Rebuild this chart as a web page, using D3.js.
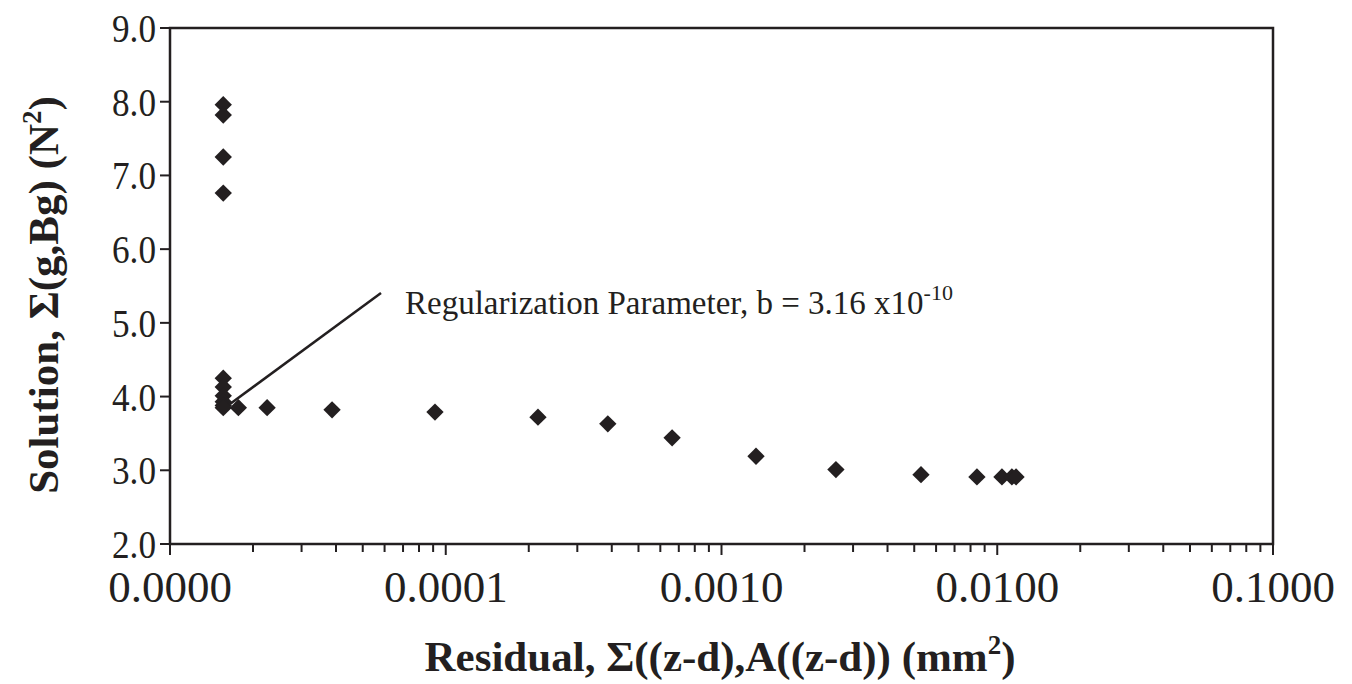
<!DOCTYPE html>
<html>
<head>
<meta charset="utf-8">
<script src="https://cdn.jsdelivr.net/npm/d3@7"></script>
<style>
  body { margin: 0; background: #fff; }
  text { font-family: "Liberation Serif", "Times New Roman", serif; fill: #231f20; }
</style>
</head>
<body>
<div id="chart"></div>
<script>
// residual (mm^2) vs solution (N^2)
const residual = [
  1.56e-5, 1.56e-5, 1.56e-5, 1.56e-5, 1.56e-5, 1.56e-5, 1.56e-5, 1.56e-5, 1.56e-5, 1.56e-5,
  1.77e-5, 2.25e-5, 3.87e-5, 9.14e-5, 2.16e-4, 3.87e-4, 6.62e-4, 1.334e-3, 2.60e-3,
  5.29e-3, 8.44e-3, 1.04e-2, 1.13e-2, 1.17e-2
];
const solution = [
  7.96, 7.82, 7.25, 6.76, 4.25, 4.13, 4.01, 3.93, 3.88, 3.85,
  3.85, 3.85, 3.82, 3.79, 3.72, 3.63, 3.44, 3.19, 3.01,
  2.94, 2.91, 2.91, 2.91, 2.91
];
const xTickLabels = ["0.0000", "0.0001", "0.0010", "0.0100", "0.1000"];
const yTickValues = [2, 3, 4, 5, 6, 7, 8, 9];

const width = 1352, height = 684;
const margin = {top: 28, right: 79, bottom: 140, left: 170};

const svg = d3.select("#chart").append("svg")
    .attr("width", width)
    .attr("height", height);

const x = d3.scaleLog()
    .domain([1e-5, 0.1])
    .range([margin.left, width - margin.right]);

const y = d3.scaleLinear()
    .domain([2, 9])
    .range([height - margin.bottom, margin.top]);

const x0 = x.range()[0], x1 = x.range()[1];
const y0 = y.range()[0], y1 = y.range()[1];

// frame
svg.append("rect")
    .attr("x", x0).attr("y", y1)
    .attr("width", x1 - x0).attr("height", y0 - y1)
    .style("fill", "none")
    .style("stroke", "#231f20")
    .style("stroke-width", 2.5);

// x ticks (minor + major)
const majors = [1e-5, 1e-4, 1e-3, 1e-2, 1e-1];
const allTicks = x.ticks();
svg.append("g").selectAll("line")
    .data(allTicks)
    .enter().append("line")
    .attr("x1", d => x(d)).attr("x2", d => x(d))
    .attr("y1", y0)
    .attr("y2", d => majors.some(m => Math.abs(m - d) / m < 1e-6) ? y0 + 11 : y0 + 8)
    .style("stroke", "#231f20")
    .style("stroke-width", 2);

svg.append("g").selectAll("text")
    .data(majors)
    .enter().append("text")
    .attr("x", d => x(d))
    .attr("y", y0 + 58)
    .attr("text-anchor", "middle")
    .style("font-size", "45px")
    .text((d, i) => xTickLabels[i]);

// y ticks
svg.append("g").selectAll("line")
    .data(yTickValues)
    .enter().append("line")
    .attr("x1", x0 - 10).attr("x2", x0)
    .attr("y1", d => y(d)).attr("y2", d => y(d))
    .style("stroke", "#231f20")
    .style("stroke-width", 2);

svg.append("g").selectAll("text")
    .data(yTickValues)
    .enter().append("text")
    .attr("x", x0 - 14)
    .attr("y", d => y(d))
    .attr("dy", "0.34em")
    .attr("text-anchor", "end")
    .attr("textLength", 44)
    .attr("lengthAdjust", "spacingAndGlyphs")
    .style("font-size", "41px")
    .text(d => d.toFixed(1));

// axis titles
const xt = svg.append("text")
    .attr("x", 720)
    .attr("y", 671)
    .attr("text-anchor", "middle")
    .style("font-size", "43px")
    .style("font-weight", "bold");
xt.append("tspan").text("Residual, \u03A3((z-d),A((z-d)) (mm");
xt.append("tspan").attr("dy", -17).style("font-size", "27px").text("2");
xt.append("tspan").attr("dy", 17).text(")");

const yt = svg.append("text")
    .attr("transform", "translate(58,295) rotate(-90)")
    .attr("text-anchor", "middle")
    .style("font-size", "43px")
    .style("font-weight", "bold");
yt.append("tspan").text("Solution, \u03A3(g,Bg) (N");
yt.append("tspan").attr("dy", -17).style("font-size", "27px").text("2");
yt.append("tspan").attr("dy", 17).text(")");

// annotation
svg.append("line")
    .attr("x1", 381).attr("y1", 293)
    .attr("x2", 230).attr("y2", 404)
    .style("stroke", "#231f20")
    .style("stroke-width", 2.5);

const ann = svg.append("text")
    .attr("x", 405)
    .attr("y", 314)
    .style("font-size", "33px");
ann.append("tspan").text("Regularization Parameter, b = 3.16 x10");
ann.append("tspan").attr("dy", -14).style("font-size", "22px").text("-10");

// points
const diamond = d3.symbol().type(d3.symbolSquare).size(150);
svg.append("g").selectAll("path")
    .data(residual.map((r, i) => ({r: r, s: solution[i]})))
    .enter().append("path")
    .attr("d", diamond)
    .attr("transform", d => `translate(${x(d.r)},${y(d.s)}) rotate(45)`)
    .style("fill", "#231f20");
</script>
</body>
</html>
